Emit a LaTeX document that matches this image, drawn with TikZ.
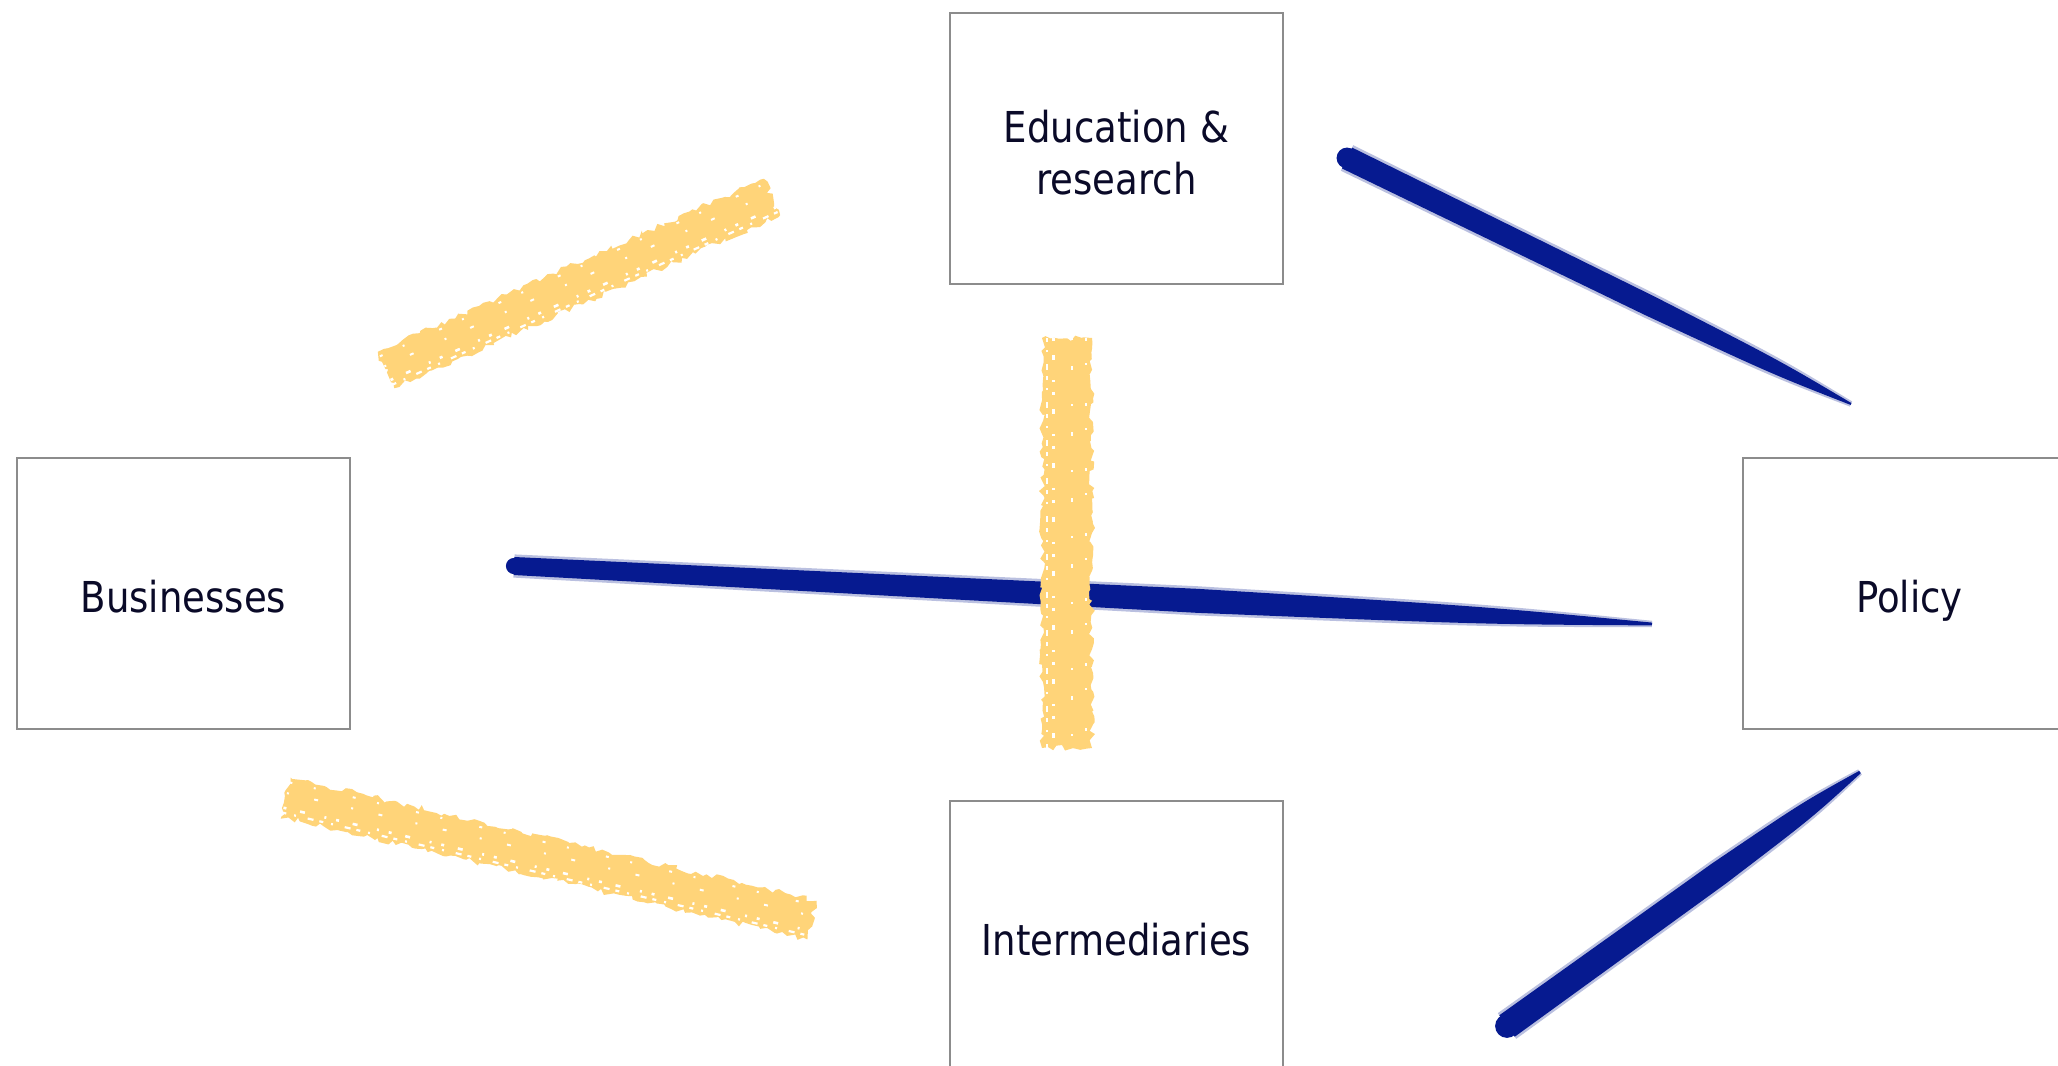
\documentclass[tikz,border=0pt]{standalone}
\usepackage{fontspec}
\setmainfont{DejaVu Sans}[FakeStretch=0.87]
\usetikzlibrary{calc,decorations.pathmorphing}
\definecolor{yel}{HTML}{FFD479}
\definecolor{bluec}{HTML}{061A90}
\definecolor{boxline}{HTML}{8C8C8C}
\definecolor{txt}{HTML}{0A0A28}
% blue tapered brush: start, end, half-width start, half-width middle, half-width end
\newcommand\brushshape[5]{%
  ($(#1)!#3!90:(#2)$) -- ($(#1)!0.6!(#2)!#4!90:(#2)$)
  .. controls ($(#1)!0.85!(#2)!0.75*#4!90:(#2)$) .. ($(#2)!#5!-90:(#1)$)
  -- ($(#2)!#5!90:(#1)$)
  .. controls ($(#1)!0.85!(#2)!0.75*#4!-90:(#2)$) .. ($(#1)!0.6!(#2)!#4!-90:(#2)$)
  -- ($(#1)!#3!-90:(#2)$) -- cycle
}
\newcommand\brushstroke[5]{%
  \fill[bluec!50, opacity=0.55] \brushshape{#1}{#2}{#3+1.3pt}{#4+1.3pt}{#5+0.9pt};
  \fill[bluec] \brushshape{#1}{#2}{#3}{#4}{#5};
  \fill[bluec] (#1) circle[radius=0.9*#3];
}
% yellow chalk stroke: start, end, half-width
\newcommand\chalkstroke[3]{%
  \fill[yel, decorate, decoration={random steps,segment length=2.4pt,amplitude=1.5pt}]
    ($(#1)!#3!90:(#2)$) -- ($(#2)!#3!-90:(#1)$) -- ($(#2)!#3!90:(#1)$) -- ($(#1)!#3!-90:(#2)$) -- cycle;
  \draw[white, line width=1.3pt, dash pattern=on 1.5pt off 7pt on 2.5pt off 10pt on 1pt off 5pt]
    ($(#1)!0.55*#3!-90:(#2)$) -- ($(#2)!0.55*#3!90:(#1)$);
  \draw[white, line width=1.1pt, dash pattern=on 2pt off 4pt on 1pt off 6pt on 3pt off 3pt]
    ($(#1)!0.8*#3!-90:(#2)$) -- ($(#2)!0.8*#3!90:(#1)$);
  \draw[white, line width=1pt, dash pattern=on 1pt off 13pt on 2pt off 17pt]
    ($(#1)!0.2*#3!90:(#2)$) -- ($(#2)!0.2*#3!-90:(#1)$);
  \draw[white, line width=1pt, dash pattern=on 1.5pt off 11pt on 1pt off 19pt]
    ($(#1)!0.75*#3!90:(#2)$) -- ($(#2)!0.75*#3!-90:(#1)$);
}
\pgfmathsetseed{11}
\begin{document}
\begin{tikzpicture}[x=0.5pt,y=-0.5pt,
  box/.style={draw=boxline, line width=1pt, fill=white, minimum width=166.5pt,
    minimum height=135.5pt, inner sep=0pt, align=center, text=txt,
    font=\fontsize{21.3}{26}\selectfont},
  oneline/.style={text height=18.9pt, text depth=0pt},
  twoline/.style={text height=46.2pt, text depth=0pt}]
\useasboundingbox (0,0) rectangle (2058,1066);
\clip (0,0) rectangle (2058,1066);
\fill[white] (0,0) rectangle (2058,1066);

\node[box, twoline] (edu) at (1116.5,148.5) {Education \&\\research};
\node[box, oneline] (bus) at (183.5,593.5) {Businesses};
\node[box, oneline] (pol) at (1909.5,593.5) {Policy};
\node[box, oneline] (int) at (1116.5,936.5) {Intermediaries};

% stroke ends
\coordinate (b1s) at (1347,158);
\coordinate (b1e) at (1851,404);
\coordinate (bhs) at (514,566);
\coordinate (bhe) at (1652,624);
\coordinate (b3s) at (1507,1026);
\coordinate (b3e) at (1860,772);
\coordinate (y1s) at (386,370);
\coordinate (y1e) at (772,197);
\coordinate (yvs) at (1067,338);
\coordinate (yve) at (1067,748);
\coordinate (y3s) at (286,797);
\coordinate (y3e) at (812,920);

\brushstroke{b1s}{b1e}{5.8pt}{5.2pt}{0.5pt}
\brushstroke{bhs}{bhe}{4.5pt}{6pt}{0.7pt}
\brushstroke{b3s}{b3e}{6.6pt}{6.1pt}{0.7pt}

\chalkstroke{y1s}{y1e}{10pt}
\chalkstroke{yvs}{yve}{12.5pt}
\chalkstroke{y3s}{y3e}{10pt}
\end{tikzpicture}
\end{document}
